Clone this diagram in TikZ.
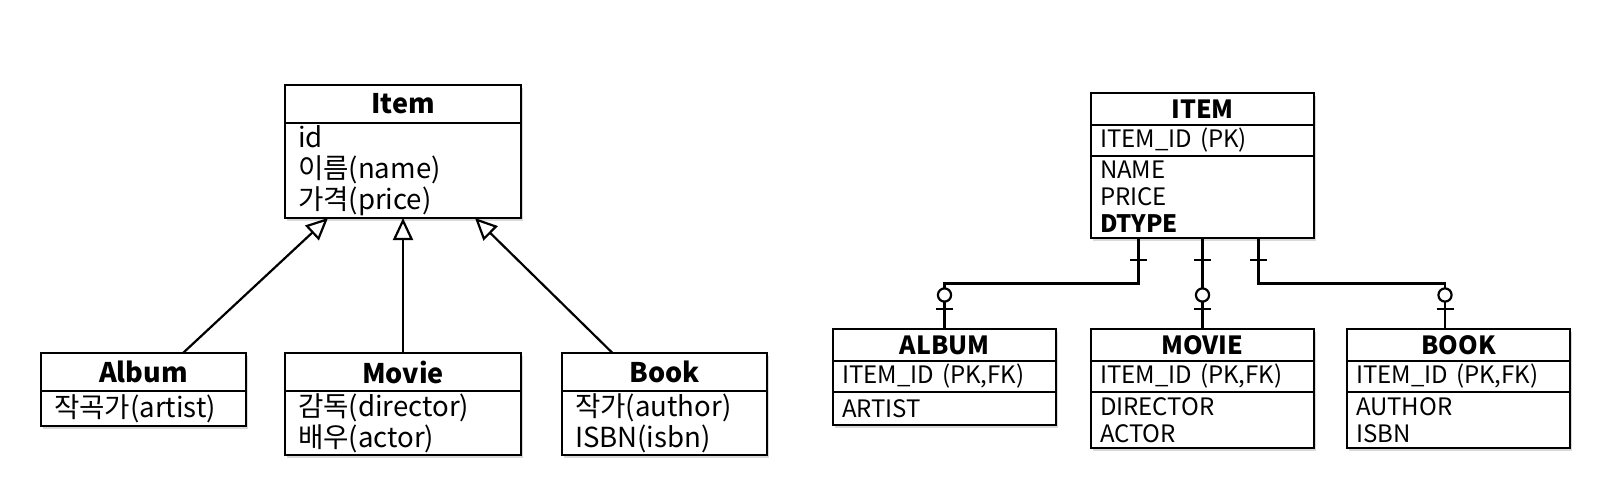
\documentclass[tikz,border=0pt]{standalone}
\usepackage{fontspec}
\setmainfont{Noto Sans CJK KR}
\usepackage{tikz}
\usetikzlibrary{arrows.meta,calc,positioning,shadows,decorations.markings}

\tikzset{
  boxline/.style={
    draw,
    line width=1.25pt,
    fill=white,
    outer sep=0pt,
    drop shadow={shadow xshift=1pt, shadow yshift=-1.4pt, opacity=.3}
  },
  clshead/.style={
    boxline,
    anchor=north west,
    inner sep=0pt,
    minimum height=19pt,
    font=\fontsize{13.5}{15.5}\selectfont\bfseries
  },
  clsfield/.style={
    boxline,
    align=left,
    inner xsep=6.5pt,
    inner ysep=0pt,
    text width=#1,
    font=\fontsize{13.8}{15.5}\selectfont
  },
  tblhead/.style={
    boxline,
    anchor=north west,
    inner sep=0pt,
    minimum width=111.5pt,
    minimum height=16pt,
    font=\fontsize{12.5}{14}\selectfont\bfseries
  },
  tblcol/.style={
    boxline,
    align=left,
    inner xsep=4.5pt,
    inner ysep=0pt,
    text width=102.5pt,
    font=\fontsize{12}{13.5}\selectfont
  },
  inherit/.style={
    line width=1.1pt,
    -{Triangle[open,length=11pt,width=10pt]}
  },
  relline/.style={line width=1.1pt},
  oneside/.style={
    postaction={decorate,decoration={markings,
      mark=at position 11pt with {\draw[line width=1.1pt] (0,-4.25pt) -- (0,4.25pt);}}}
  },
  zeroone/.style={
    postaction={decorate,decoration={markings,
      mark=at position -10pt with {\draw[line width=1.1pt] (0,-4.25pt) -- (0,4.25pt);},
      mark=at position -17pt with {\draw[line width=1.1pt,fill=white] (0,0) circle (3.3pt);}}}
  }
}

\begin{document}
\begin{tikzpicture}[x=0.5pt,y=-0.5pt]
  \useasboundingbox (0,0) rectangle (1609,500);

  % class diagram
  \node[clshead, minimum width=118pt] (itemcls) at (285,85) {Item};
  \node[clsfield=105pt, minimum height=47.5pt, below=0pt of itemcls] (itemfld)
    {id\\이름(name)\\가격(price)};

  \node[clshead, minimum width=102.5pt] (albumcls) at (41,353) {Album};
  \node[clsfield=89.5pt, minimum height=17.5pt, below=0pt of albumcls] (albumfld)
    {작곡가(artist)};

  \node[clshead, minimum width=118pt] (moviecls) at (285,353) {Movie};
  \node[clsfield=105pt, minimum height=32pt, below=0pt of moviecls] (moviefld)
    {감독(director)\\배우(actor)};

  \node[clshead, minimum width=102.5pt] (bookcls) at (562,353) {Book};
  \node[clsfield=89.5pt, minimum height=32pt, below=0pt of bookcls] (bookfld)
    {작가(author)\\ISBN(isbn)};

  \draw[inherit] ([xshift=19.75pt]albumcls.north) -- ([xshift=-37.5pt]itemfld.south);
  \draw[inherit] (moviecls.north) -- (itemfld.south);
  \draw[inherit] ([xshift=-26pt]bookcls.north) -- ([xshift=36pt]itemfld.south);

  % tables
  \node[tblhead] (itemtbl) at (1091,93) {ITEM};
  \node[tblcol, minimum height=15.5pt, below=0pt of itemtbl] (itemkey) {ITEM\_ID (PK)};
  \node[tblcol, minimum height=41pt, below=0pt of itemkey] (itemcols)
    {NAME\\PRICE\\\textbf{DTYPE}};

  \node[tblhead] (albumtbl) at (833,329) {ALBUM};
  \node[tblcol, minimum height=15.5pt, below=0pt of albumtbl] (albumkey) {ITEM\_ID (PK,FK)};
  \node[tblcol, minimum height=16.5pt, below=0pt of albumkey] (albumcols) {ARTIST};

  \node[tblhead] (movietbl) at (1091,329) {MOVIE};
  \node[tblcol, minimum height=15.5pt, below=0pt of movietbl] (moviekey) {ITEM\_ID (PK,FK)};
  \node[tblcol, minimum height=28pt, below=0pt of moviekey] (moviecols)
    {DIRECTOR\\ACTOR};

  \node[tblhead] (booktbl) at (1347,329) {BOOK};
  \node[tblcol, minimum height=15.5pt, below=0pt of booktbl] (bookkey) {ITEM\_ID (PK,FK)};
  \node[tblcol, minimum height=28pt, below=0pt of bookkey] (bookcols)
    {AUTHOR\\ISBN};

  \draw[relline, oneside, zeroone] ([xshift=-32pt]itemcols.south)
    |- ($([xshift=-32pt]itemcols.south)!.5!(albumtbl.north)$) -| (albumtbl.north);
  \draw[relline, oneside, zeroone] (itemcols.south) -- (movietbl.north);
  \draw[relline, oneside, zeroone] ([xshift=28pt]itemcols.south)
    |- ($([xshift=28pt]itemcols.south)!.5!([xshift=-6.75pt]booktbl.north)$)
    -| ([xshift=-6.75pt]booktbl.north);
\end{tikzpicture}
\end{document}
